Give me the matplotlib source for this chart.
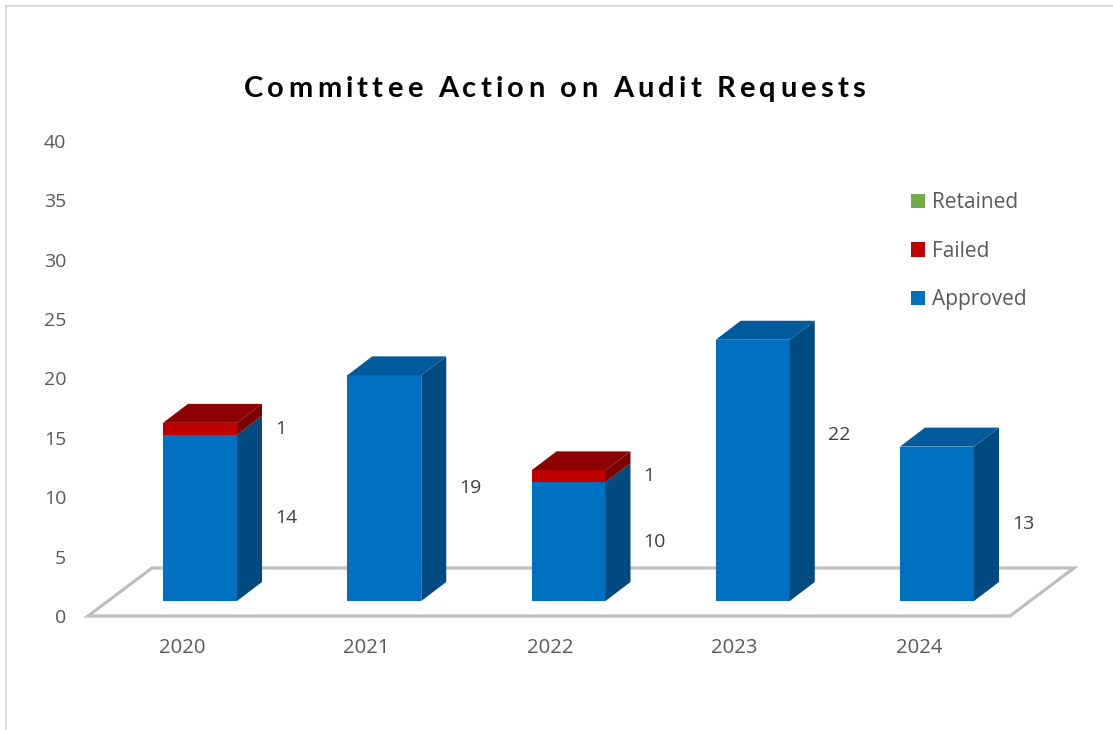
import matplotlib
matplotlib.use("Agg")
import matplotlib.pyplot as plt
from matplotlib.patches import Polygon, Patch
from matplotlib.lines import Line2D
import numpy as np

years = ["2020", "2021", "2022", "2023", "2024"]
approved = [14, 19, 10, 22, 13]
failed = [1, 0, 1, 0, 0]
retained = [0, 0, 0, 0, 0]
yticks = [0, 5, 10, 15, 20, 25, 30, 35, 40]

W, H = 1113, 730
plt.rcParams['font.family'] = ['Open Sans', 'DejaVu Sans']

fig = plt.figure(figsize=(W / 100, H / 100), dpi=100)

# pixel layout of the axes (x: category index, y: value)
px_x0, px_unit_x = 200.0, 184.25   # pixel of category 0, px per category
px_y0, px_unit_y = 601.0, 11.875   # pixel of value 0 (bar front base), px per unit
ax_l, ax_r, ax_t, ax_b = 80, 1090, 120, 660
ax = fig.add_axes([ax_l / W, 1 - ax_b / H, (ax_r - ax_l) / W, (ax_b - ax_t) / H])
ax.set_xlim((ax_l - px_x0) / px_unit_x, (ax_r - px_x0) / px_unit_x)
ax.set_ylim((px_y0 - ax_b) / px_unit_y, (px_y0 - ax_t) / px_unit_y)
for s in ax.spines.values():
    s.set_visible(False)
ax.set_xticks([])

bar_w = 74 / px_unit_x
dx, dy = 25 / px_unit_x, 19 / px_unit_y           # bar depth
fdx, fdy = 64 / px_unit_x, 48 / px_unit_y         # floor depth
floor_off = 15 / px_unit_y                        # floor front edge below bar base

# floor
fl, fr = (88 - px_x0) / px_unit_x, (1010 - px_x0) / px_unit_x
floor = Polygon([(fl, -floor_off), (fr, -floor_off), (fr + fdx, -floor_off + fdy),
                 (fl + fdx, -floor_off + fdy)], closed=True, facecolor='white',
                edgecolor='#bfbfbf', lw=2.3, zorder=1)
ax.add_patch(floor)

# y ticks aligned with the floor front edge
ax.set_yticks(np.array(yticks) - floor_off, labels=[str(t) for t in yticks])
ax.tick_params(axis='y', length=0, pad=10, labelsize=14, labelcolor='#595959')

series = [
    (approved, '#0070c0', '#004a80', '#005a9c'),
    (failed, '#c00000', '#7a0000', '#8c0000'),
    (retained, '#70ad47', '#4a7a2c', '#5a9138'),
]

# Excel moved the 2023 label up a bit
label_nudge = {(0, 3): 35 / px_unit_y}

x = np.arange(len(years))
bottom = np.zeros(len(years))
top_idx = np.zeros(len(years), dtype=int)
for k, (vals, *_ ) in enumerate(series):
    for i, v in enumerate(vals):
        if v > 0:
            top_idx[i] = k

for k, (vals, c_front, c_side, c_top) in enumerate(series):
    vals = np.array(vals, dtype=float)
    for i in range(len(years)):
        v = vals[i]
        if v <= 0:
            continue
        y0, y1 = bottom[i], bottom[i] + v
        xl, xr = x[i] - bar_w / 2, x[i] + bar_w / 2
        ax.bar(x[i], v, bottom=y0, width=bar_w, color=c_front, zorder=3, linewidth=0)
        ax.add_patch(Polygon([(xr, y0), (xr + dx, y0 + dy), (xr + dx, y1 + dy), (xr, y1)],
                             closed=True, facecolor=c_side, lw=0, zorder=3))
        if top_idx[i] == k:
            ax.add_patch(Polygon([(xl, y1), (xl + dx, y1 + dy), (xr + dx, y1 + dy), (xr, y1)],
                                 closed=True, facecolor=c_top, lw=0, zorder=3))
        ax.text(xr + dx + 13 / px_unit_x, y0 + v / 2 + label_nudge.get((k, i), 0),
                f"{int(v)}", ha='left', va='center', fontsize=14, color='#404040', zorder=4)
    bottom += vals

# category labels along the floor front edge
for i, yr in enumerate(years):
    ax.text(x[i] - 18 / px_unit_x, (px_y0 - 648) / px_unit_y, yr, ha='center', va='center',
            fontsize=14.6, color='#595959')

# legend
handles = [Patch(facecolor=c, edgecolor='none', label=l) for l, c in
           [("Retained", '#70ad47'), ("Failed", '#c00000'), ("Approved", '#0070c0')]]
leg = fig.legend(handles=handles, loc='upper left', bbox_to_anchor=(911 / W, 1 - 192 / H),
                 frameon=False, fontsize=15, labelcolor='#595959', handlelength=0.68,
                 handleheight=0.68, handletextpad=0.33, labelspacing=1.33, borderpad=0,
                 borderaxespad=0)

# title with wide letter spacing
title = "Committee Action on Audit Requests"
t_left, t_right, t_base = 244, 865, 97
renderer = fig.canvas.get_renderer()
tprops = dict(fontsize=21, fontweight='bold', color='black', family=['Lato', 'DejaVu Sans'])


def text_w(s):
    t = fig.text(0, 0, s, **tprops)
    w = t.get_window_extent(renderer).width
    t.remove()
    return w


widths = []
for ch in title:
    if ch == " ":
        widths.append(text_w("a a") - text_w("aa"))
    else:
        widths.append(text_w(ch))
gap = (t_right - t_left - sum(widths)) / (len(title) - 1)
cx = t_left
for ch, w in zip(title, widths):
    if ch != " ":
        fig.text(cx / W, 1 - t_base / H, ch, ha='left', va='baseline', **tprops)
    cx += w + gap

# outer chart border
fig.add_artist(Line2D([6 / W, 6 / W], [0, 1 - 6 / H], color='#d9d9d9', lw=1.3))
fig.add_artist(Line2D([6 / W, 1], [1 - 6 / H, 1 - 6 / H], color='#d9d9d9', lw=1.3))

fig.savefig("out.png", dpi=100)
